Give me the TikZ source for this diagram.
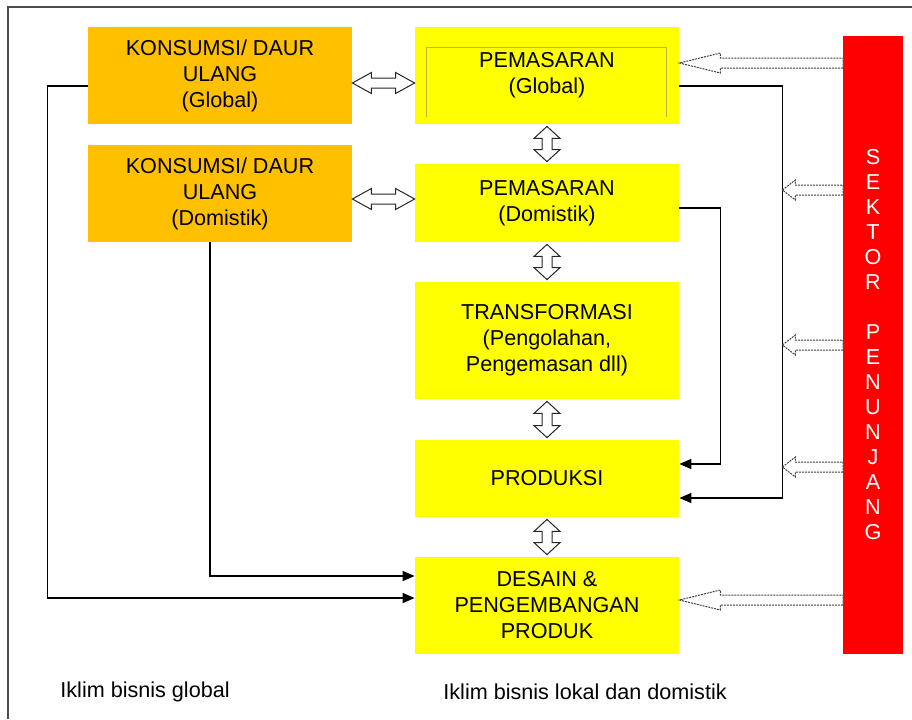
\documentclass[tikz,border=0pt]{standalone}
\usepackage{fontspec}
\setmainfont{Liberation Sans}
\usepackage{xcolor}
\usepackage{tikz}
\usetikzlibrary{calc}
\usetikzlibrary{arrows.meta}
\definecolor{amber}{RGB}{255,192,0}
\definecolor{lemon}{RGB}{255,255,0}
\definecolor{signal}{RGB}{255,0,0}
\tikzstyle{arrow} = [thick,->,>={Triangle[length=6pt,width=5pt]}]
\tikzset{
	dblarrow/.style 2 args={draw=black!85, fill=white, line width=0.5pt, to path={
		let \p1=(\tikztostart), \p2=(\tikztotarget),
		\n1={atan2(\y2-\y1,\x2-\x1)}, \n2={veclen(\x2-\x1,\y2-\y1)} in
		[shift={(\p1)}, rotate=\n1]
		(0pt,0pt) -- (#1,#2) -- (#1,2.5pt) -- (\n2-#1,2.5pt) -- (\n2-#1,#2) -- (\n2,0pt)
		-- (\n2-#1,-#2) -- (\n2-#1,-2.5pt) -- (#1,-2.5pt) -- (#1,-#2) -- cycle}},
	sarr/.style={draw=black!75, fill=white, line width=0.5pt, dash pattern=on 1pt off 0.5pt, to path={
		let \p1=(\tikztostart), \p2=(\tikztotarget),
		\n1={atan2(\y2-\y1,\x2-\x1)}, \n2={veclen(\x2-\x1,\y2-\y1)} in
		[shift={(\p1)}, rotate=\n1]
		(0pt,2.5pt) -- (\n2-#1,2.5pt) -- (\n2-#1,5pt) -- (\n2,0pt)
		-- (\n2-#1,-5pt) -- (\n2-#1,-2.5pt) -- (0pt,-2.5pt) -- cycle}}
}

\begin{document}
\begin{tikzpicture}[x=0.5pt, y=-0.5pt,
				box/.style= {minimum width=132pt, inner sep=0pt, align=center,
					font={\fontsize{10.8}{13}\selectfont}},
				obox/.style= {box, fill=amber, minimum height=48.5pt},
				ybox/.style= {box, fill=lemon},
				harr/.style= {dblarrow={9.5pt}{5.25pt}},
				varr/.style= {dblarrow={6pt}{6.5pt}},
				lbl/.style= {anchor=base west, inner sep=0pt, font={\fontsize{10.8}{13}\selectfont}}
			]
			\useasboundingbox (0,0) rectangle (912,719);
			\draw [line width=0.75pt, black!70] (8,719) -- (8,7) -- (912,7);
			
			\node (k1) [obox] at (220,75.5) {KONSUMSI/ DAUR\\ULANG\\(Global)};
			\node (k2) [obox] at (220,193.5) {KONSUMSI/ DAUR\\ULANG\\(Domistik)};
			\node (p1) [ybox, minimum height=48.5pt] at (547,75.5) {PEMASARAN\\(Global)};
			\node (p2) [ybox, minimum height=39pt] at (547,203) {PEMASARAN\\(Domistik)};
			\node (t) [ybox, minimum height=58.5pt] at (547,340.5) {TRANSFORMASI\\(Pengolahan,\\Pengemasan dll)};
			\node (pr) [ybox, minimum height=38.5pt] at (547,478.5) {PRODUKSI};
			\node (d) [ybox, minimum height=48.5pt] at (547,605.5) {DESAIN \&\\PENGEMBANGAN\\PRODUK};
			\node (sp) [fill=signal, text=white, minimum width=30pt, minimum height=309pt, inner sep=0pt,
				align=center, font={\fontsize{10.8}{12.5}\selectfont}] at (873,345)
				{S\\E\\K\\T\\O\\R\\[12.5pt]P\\E\\N\\U\\N\\J\\A\\N\\G};
			\draw [yellow!70!black, line width=0.3pt] ($(p1.south west)+(12,-7)$) |- ($(p1.north east)+(-13,21)$) -- ($(p1.south east)+(-13,-7)$);
			
			\draw [harr] ([yshift=-3.75pt]k1.east) to ([yshift=-3.75pt]p1.west);
			\draw [harr] ([yshift=-2.75pt]k2.east) to ([yshift=2pt]p2.west);
			\foreach \a/\b in {p1/p2, p2/t, t/pr, pr/d}{
				\draw [varr] ([yshift=-1pt]\a.south) to ([yshift=1pt]\b.north);
			}
			
			\draw [arrow] ([yshift=-5.25pt]k1.west) -- ++(-20pt,0) |- ([yshift=3.75pt]d.west);
			\draw [arrow] ([xshift=-5pt]k2.south) |- ([yshift=14.75pt]d.west);
			\draw [arrow] ([yshift=-5.25pt]p1.east) -- ++(51.5pt,0) coordinate (g) |- ([yshift=-9.75pt]pr.east);
			\draw [arrow] ([yshift=-2.5pt]p2.east) -- ++(20.5pt,0) |- ([yshift=7.25pt]pr.east);
			
			\foreach \i/\y in {1/63, 2/190, 3/345, 4/467, 5/600}{
				\coordinate (s\i) at (843,\y);
			}
			\draw [sarr=20.5pt] (s1) to (p1.east |- s1);
			\foreach \i in {2,3,4}{
				\draw [sarr=6.5pt] (s\i) to (g |- s\i);
			}
			\draw [sarr=20.5pt] (s5) to (d.east |- s5);
			
			\node (lg) [lbl] at (60,697) {Iklim bisnis global};
			\node (ll) [lbl] at (443,699) {Iklim bisnis lokal dan domistik};
		\end{tikzpicture}
\end{document}
